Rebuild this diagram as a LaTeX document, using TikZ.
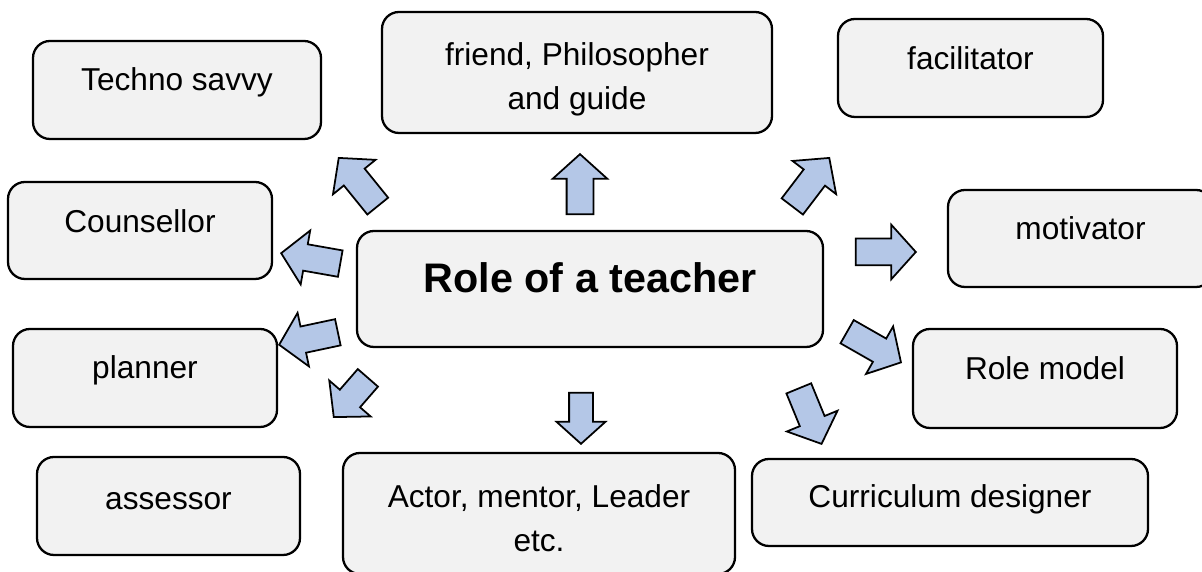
\documentclass[tikz,border=0pt]{standalone}
\usepackage{fontspec}
\setmainfont{Liberation Sans}
\usepackage{tikz}
\usetikzlibrary{shapes.arrows}

\definecolor{boxgray}{HTML}{F2F2F2}
\definecolor{arrowblue}{HTML}{B4C7E7}

\tikzset{
  rolebox/.style={draw, line width=1.3pt, fill=boxgray, rounded corners=0.34cm,
    inner xsep=0pt, inner ysep=0pt, align=center, text height=1cm,
    font=\fontsize{18}{25.6}\selectfont},
  blockarrow/.style={single arrow, draw, line width=1pt, fill=arrowblue,
    inner xsep=0pt, inner ysep=0.25cm, single arrow head extend=0.28cm,
    single arrow tip angle=96, anchor=tip}
}

\begin{document}
\begin{tikzpicture}
  \useasboundingbox (0,0) rectangle (24.04,11.44);
  % centre
  \node [rolebox, minimum width=9.32cm, text height=1.24cm, text depth=1.08cm,
    font=\fontsize{23.5}{28}\selectfont\bfseries] (role) at (11.8,5.66) {Role of a teacher};
  % roles round it
  \node [rolebox, minimum width=5.76cm, text depth=0.96cm] (techno) at (3.54,9.64) {Techno savvy};
  \node [rolebox, minimum width=7.8cm, text height=1.96cm, text depth=0.46cm] (friend) at (11.54,9.99) {friend, Philosopher\\and guide};
  \node [rolebox, minimum width=5.3cm, text height=1.02cm, text depth=0.94cm] (facil) at (19.41,10.08) {facilitator};
  \node [rolebox, minimum width=5.28cm, text height=1.02cm, text depth=0.92cm] (counsel) at (2.8,6.83) {Counsellor};
  \node [rolebox, minimum width=5.3cm, text depth=0.94cm] (motiv) at (21.61,6.67) {motivator};
  \node [rolebox, minimum width=5.28cm, text depth=0.96cm] (planner) at (2.9,3.88) {planner};
  \node [rolebox, minimum width=5.28cm, text height=1.02cm, text depth=0.96cm] (model) at (20.9,3.87) {Role model};
  \node [rolebox, minimum width=5.26cm, text height=1.06cm, text depth=0.9cm] (assess) at (3.37,1.32) {assessor};
  \node [rolebox, minimum width=7.84cm, text height=1.98cm, text depth=0.44cm] (actor) at (10.78,1.17) {Actor, mentor, Leader\\etc.};
  \node [rolebox, minimum width=7.92cm, text height=0.98cm, text depth=0.76cm] (curric) at (19.0,1.39) {Curriculum designer};
  % block arrows
  \node [blockarrow, minimum height=1.2cm, rotate=90] (toFriend) at (11.6,8.38) {};
  \node [blockarrow, minimum height=1.24cm, rotate=129] (toTechno) at (6.76,8.3) {};
  \node [blockarrow, minimum height=1.2cm, rotate=170] (toCounsel) at (5.6,6.38) {};
  \node [blockarrow, minimum height=1.2cm, rotate=192] (toPlanner) at (5.56,4.54) {};
  \node [blockarrow, minimum height=1.04cm, rotate=229] (toAssess) at (6.66,3.08) {};
  \node [blockarrow, minimum height=1.02cm, rotate=270, inner ysep=0.22cm,
    single arrow head extend=0.25cm] (toActor) at (11.62,2.54) {};
  \node [blockarrow, minimum height=1.22cm, rotate=52.7] (toFacil) at (16.6,8.3) {};
  \node [blockarrow, minimum height=1.2cm, rotate=0] (toMotiv) at (18.34,6.4) {};
  \node [blockarrow, minimum height=1.24cm, rotate=-29.7] (toModel) at (18.04,4.18) {};
  \node [blockarrow, minimum height=1.2cm, rotate=-67.7] (toCurric) at (16.44,2.54) {};
\end{tikzpicture}
\end{document}
